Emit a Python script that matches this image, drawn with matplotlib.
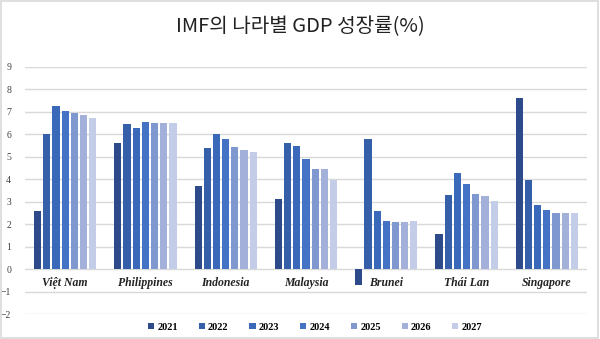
import numpy as np
import matplotlib
matplotlib.use("Agg")
from matplotlib import pyplot as plt
from matplotlib.patches import Rectangle

# du lieu
countries = ["Việt Nam", "Philippines", "Indonesia", "Malaysia", "Brunei", "Thái Lan", "Singapore"]
years = ["2021", "2022", "2023", "2024", "2025", "2026", "2027"]
g2021 = [2.6, 5.6, 3.7, 3.1, -0.7, 1.55, 7.6]
g2022 = [6.0, 6.45, 5.4, 5.6, 5.8, 3.3, 3.95]
g2023 = [7.25, 6.3, 6.0, 5.5, 2.6, 4.3, 2.85]
g2024 = [7.05, 6.55, 5.8, 4.9, 2.15, 3.8, 2.65]
g2025 = [6.95, 6.5, 5.45, 4.45, 2.1, 3.35, 2.5]
g2026 = [6.85, 6.5, 5.3, 4.45, 2.1, 3.25, 2.5]
g2027 = [6.75, 6.52, 5.2, 3.95, 2.12, 3.05, 2.5]
series = [g2021, g2022, g2023, g2024, g2025, g2026, g2027]
colors = ["#2d4b8a", "#3560a9", "#3b69b9", "#4472c4", "#7f98cf", "#a3b1da", "#c4cde7"]

fig = plt.figure(figsize=(6, 3.39), dpi=100)
fig.patches.append(Rectangle((0.002, 0.003), 0.995, 0.994, transform=fig.transFigure,
                             fill=False, edgecolor="#d9d9d9", linewidth=1.2))

ax = fig.add_axes([25/600, 1-314/339, 562/600, (314-67)/339])

x = np.arange(len(countries))
slot = 0.8 / len(years)
for i, vals in enumerate(series):
    ax.bar(x - 0.4 + slot*(i+0.5), vals, width=slot*0.78, color=colors[i],
           label=years[i], zorder=3)

ax.set_xlim(-0.5, 6.5)
ax.set_ylim(-2, 9)
ax.set_yticks(range(-2, 10))
ax.yaxis.grid(True, color="#d9d9d9", linewidth=1, zorder=0)
ax.set_xticks([])
for s in ax.spines.values():
    s.set_visible(False)
ax.tick_params(axis="y", length=0, pad=10, labelsize=7, labelcolor="#404040")
for lbl in ax.get_yticklabels():
    lbl.set_fontfamily("Liberation Serif")

for i, c in enumerate(countries):
    ax.text(x[i], -0.62, c, ha="center", va="center", fontsize=8.5,
            fontfamily="Liberation Serif", fontweight="bold", fontstyle="italic", color="#222222")

fig.text(0.5, 0.92, "IMF의 나라별 GDP 성장률(%)", ha="center", va="center", fontsize=14.5,
         family=["Noto Sans CJK KR", "DejaVu Sans"], color="#222222")

leg = ax.legend(loc="center", bbox_to_anchor=(0.525, 1-327/339), bbox_transform=fig.transFigure,
                ncol=7, frameon=False, handlelength=0.6, handleheight=0.6, columnspacing=2.0,
                handletextpad=0.3, prop={"family": "Liberation Serif", "weight": "bold", "size": 7.5})

plt.savefig("out.png", dpi=100)
